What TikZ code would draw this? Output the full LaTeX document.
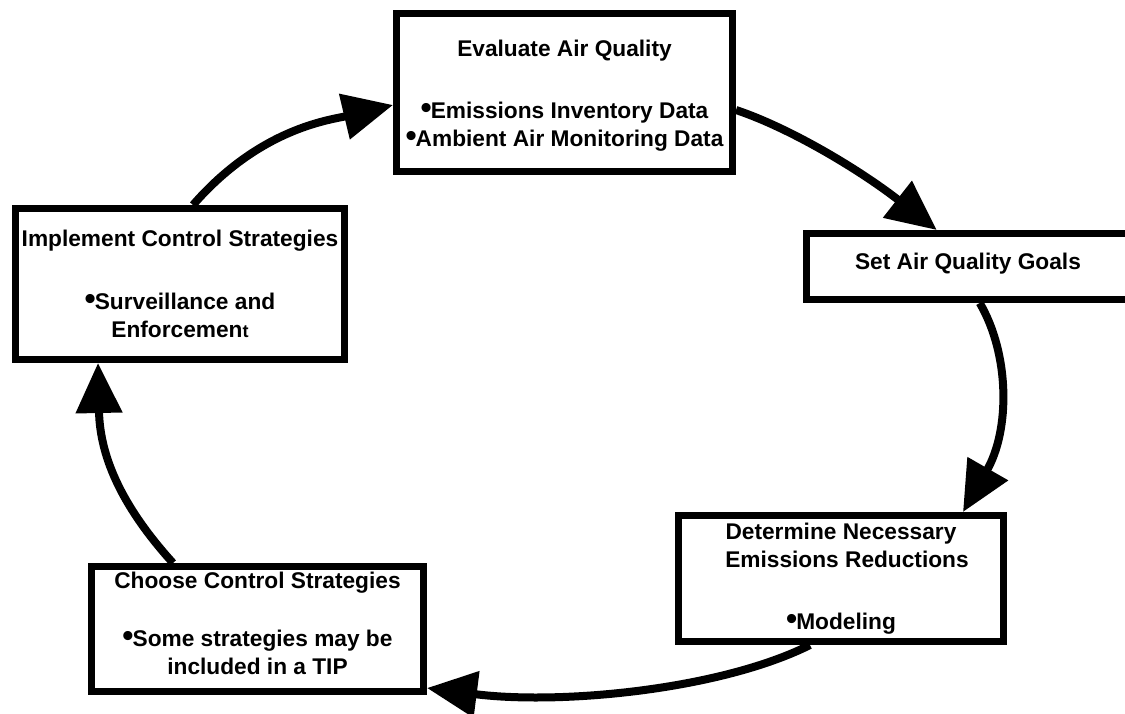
\documentclass[tikz,border=0pt]{standalone}
\usepackage{fontspec}
\setmainfont{Liberation Sans}
\usetikzlibrary{arrows.meta}
\pgfdeclarelayer{bg}
\pgfsetlayers{bg,main}
\newcommand\bul{\scalebox{1.4}{•}\hspace{-1pt}}
\begin{document}
\begin{tikzpicture}[x=1pt,y=-1pt,
  box/.style={draw, fill=white, line width=7pt, rectangle, align=center, inner sep=0pt,
    font=\fontsize{22.7}{28}\selectfont\bfseries},
  flow/.style={line width=8pt, -{Triangle[length=50pt,width=45pt]}}]
\useasboundingbox (0,0) rectangle (1125,713);
\node[box, minimum width=336pt, minimum height=158pt] (eval) at (564.5,92.5)
  {\rule{0pt}{23pt}Evaluate Air Quality\\[34pt]\bul Emissions Inventory Data\\\bul Ambient Air Monitoring Data};
\node[box, minimum width=329pt, minimum height=151pt] (impl) at (180,284)
  {Implement Control Strategies\\[35pt]\bul Surveillance and\\Enforcemen{\fontsize{18}{28}\selectfont t}};
\node[box, minimum width=323.5pt, minimum height=66pt] (set) at (968,266.5)
  {Set Air Quality Goals\rule[-10.3pt]{0pt}{0pt}};
\node[box, minimum width=325pt, minimum height=126pt] (det) at (841,578.5)
  {Determine Necessary\\\hspace*{12pt}Emissions Reductions\\[34pt]\bul Modeling};
\node[box, minimum width=332pt, minimum height=125pt] (choose) at (257.5,629)
  {Choose Control Strategies\\[30pt]\bul Some strategies may be\\included in a TIP\rule[-11pt]{0pt}{0pt}};
\begin{pgfonlayer}{bg}
\draw[flow] ([xshift=181pt]impl.north west) .. controls (260,128) and (330,120) .. ([yshift=-12.5pt]eval.west);
\draw[flow] ([yshift=-17.5pt]eval.east) .. controls (790,128) and (860,170) .. ([xshift=134pt]set.north west);
\draw[flow] ([xshift=177pt]set.south west) .. controls (1010,355) and (1010,430) .. ([xshift=288pt]det.north west);
\draw[flow] ([xshift=135pt]det.south west) .. controls (720,690) and (560,705) .. ([yshift=-59pt]choose.east);
\draw[flow] ([xshift=85pt]choose.north west) .. controls (125,510) and (100,460) .. ([xshift=86pt]impl.south west);
\end{pgfonlayer}
\end{tikzpicture}
\end{document}
